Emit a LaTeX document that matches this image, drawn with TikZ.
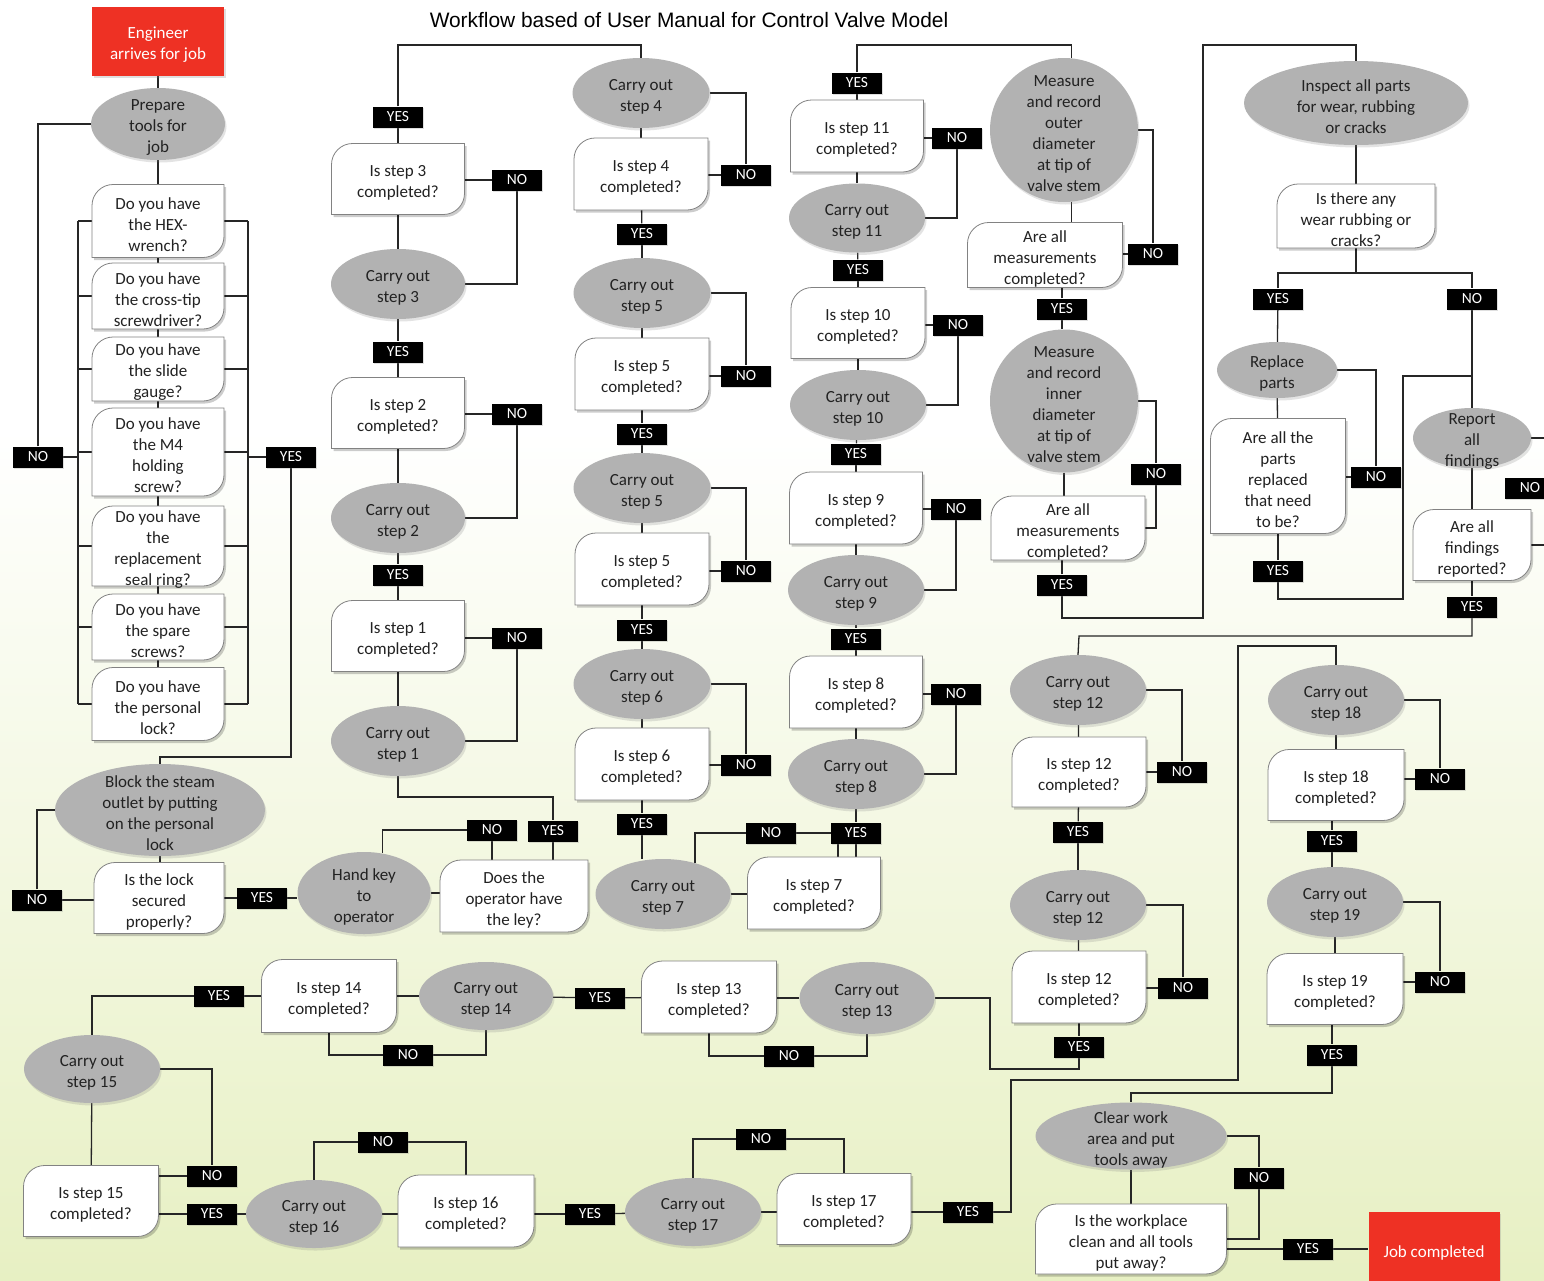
\documentclass[tikz,border=0pt]{standalone}
\usepackage{fontspec}
\setmainfont{Carlito}
\newfontfamily\titlefont{Liberation Sans}
\usetikzlibrary{shapes.geometric,shadows,calc}

\definecolor{ellgray}{RGB}{178,178,178}
\definecolor{boxedge}{RGB}{130,130,130}
\definecolor{wirec}{RGB}{38,38,38}
\definecolor{txt}{RGB}{34,34,34}
\definecolor{startred}{RGB}{238,49,36}
\definecolor{bgbot}{RGB}{231,240,195}

\pgfdeclarelayer{bg}
\pgfdeclarelayer{lines}
\pgfdeclarelayer{shapes}
\pgfsetlayers{bg,lines,shapes,main}

\tikzset{
  ell/.style={ellipse, fill=ellgray, draw=none, inner sep=0pt,
    drop shadow={shadow xshift=1.5pt, shadow yshift=-2.5pt, opacity=0.22}},
  qn/.style={rectangle, inner sep=0pt, draw=none},
  tx/.style={align=center, inner sep=0pt, text=txt, yshift=-3.5pt},
  wtx/.style={align=center, inner sep=0pt, text=white, yshift=-3.5pt},
  qshape/.style={fill=white, draw=boxedge, line width=0.8pt},
  qshadow/.style={fill=black, opacity=0.2},
  lab/.style={fill=black, text=white, minimum width=50pt, minimum height=21pt,
    inner sep=0pt, font=\fontsize{15.5}{18}\selectfont,
    drop shadow={shadow xshift=1pt, shadow yshift=-1.5pt, opacity=0.25}},
  redbox/.style={fill=startred, inner sep=0pt,
    drop shadow={shadow xshift=1.5pt, shadow yshift=-2pt, opacity=0.25}},
  wire/.style={color=wirec, line width=1.3pt},
}

% action ellipse: name, x, y, width, height, text
\newcommand\elx[6]{%
  \node[ell, minimum width=#4pt, minimum height=#5pt] (#1) at (#2,#3) {};
  \node[tx] (#1-t) at (#1) {#6};
}
% question box with two rounded diagonal corners: name, x, y, width, height, text
\newcommand\qbx[6]{%
  \node[qn, minimum width=#4pt, minimum height=#5pt] (#1) at (#2,#3) {};
  \pgfmathsetmacro\qxa{#2-#4/2}\pgfmathsetmacro\qxb{#2+#4/2}%
  \pgfmathsetmacro\qya{#3-#5/2}\pgfmathsetmacro\qyb{#3+#5/2}%
  \begin{pgfonlayer}{shapes}
    \fill[qshadow, shift={(2,2.5)}] (\qxa,\qya+21) .. controls (\qxa,\qya+9.5) and (\qxa+9.5,\qya) .. (\qxa+21,\qya)
      -- (\qxb,\qya) -- (\qxb,\qyb-21) .. controls (\qxb,\qyb-9.5) and (\qxb-9.5,\qyb) .. (\qxb-21,\qyb)
      -- (\qxa,\qyb) -- cycle;
    \filldraw[qshape] (\qxa,\qya+21) .. controls (\qxa,\qya+9.5) and (\qxa+9.5,\qya) .. (\qxa+21,\qya)
      -- (\qxb,\qya) -- (\qxb,\qyb-21) .. controls (\qxb,\qyb-9.5) and (\qxb-9.5,\qyb) .. (\qxb-21,\qyb)
      -- (\qxa,\qyb) -- cycle;
  \end{pgfonlayer}
  \node[tx] (#1-t) at (#1) {#6};
}
% YES / NO tag: name, x, y, text
\newcommand\lbx[4]{\node[lab] (#1) at (#2,#3) {#4};}

\begin{document}
\begin{tikzpicture}[x=1pt, y=-1pt, font=\fontsize{17}{21}\selectfont]
\useasboundingbox (0,0) rectangle (1544,1280);
\begin{pgfonlayer}{bg}
  \fill[white] (0,0) rectangle (1544,1280);
  \shade[top color=white, bottom color=bgbot] (0,430) rectangle (1544,1280);
\end{pgfonlayer}

\node[font=\titlefont\fontsize{20.9}{24}\selectfont, text=black] (title) at (689,20)
  {Workflow based of User Manual for Control Valve Model};

% ---------- tool check column ----------
\node[redbox, minimum width=132pt, minimum height=69pt] (start) at (158,41) {};
\node[wtx] (start-t) at (start) {Engineer\\arrives for job};
\elx{prep}{158}{124}{134}{72}{Prepare\\tools for\\job}
\qbx{q1}{158}{221}{132}{73}{Do you have\\the HEX-\\wrench?}
\qbx{q2}{158}{296}{132}{66}{Do you have\\the cross-tip\\screwdriver?}
\qbx{q3}{158}{369}{132}{64}{Do you have\\the slide\\gauge?}
\qbx{q4}{158}{452}{132}{88}{Do you have\\the M4\\holding\\screw?}
\qbx{q5}{158}{546}{132}{80}{Do you have\\the\\replacement\\seal ring?}
\qbx{q6}{158}{627}{132}{66}{Do you have\\the spare\\screws?}
\qbx{q7}{158}{704}{132}{73}{Do you have\\the personal\\lock?}
\lbx{noA}{38}{457}{NO}
\lbx{yesA}{291}{457}{YES}
\elx{block}{160}{810}{210}{92}{Block the steam\\outlet by putting\\on the personal\\lock}
\qbx{lockq}{159}{898}{130}{71}{Is the lock\\secured\\properly?}
\lbx{noB}{37}{900}{NO}
\lbx{yesB}{262}{898}{YES}
\elx{hand}{364}{893}{133}{82}{Hand key\\to\\operator}
\qbx{keyq}{514}{896}{148}{72}{Does the\\operator have\\the ley?}
\lbx{noC}{492}{830}{NO}
\lbx{yesC}{553}{831}{YES}

% ---------- steps 3 to 1 ----------
\lbx{yes3}{398}{117}{YES}
\qbx{c3q}{398}{179}{133}{71}{Is step 3\\completed?}
\lbx{no3}{517}{180}{NO}
\elx{c3s}{398}{284}{134}{70}{Carry out\\step 3}
\lbx{yes2}{398}{352}{YES}
\qbx{c2q}{398}{413}{133}{71}{Is step 2\\completed?}
\lbx{no2}{517}{414}{NO}
\elx{c2s}{398}{518}{134}{70}{Carry out\\step 2}
\lbx{yes1}{398}{575}{YES}
\qbx{c1q}{398}{636}{133}{71}{Is step 1\\completed?}
\lbx{no1}{517}{638}{NO}
\elx{c1s}{398}{741}{134}{70}{Carry out\\step 1}

% ---------- steps 4 to 7 ----------
\elx{c4s}{641}{93}{137}{70}{Carry out\\step 4}
\qbx{c4q}{641}{174}{134}{72}{Is step 4\\completed?}
\lbx{no4}{746}{175}{NO}
\lbx{yes4}{642}{234}{YES}
\elx{c5s}{642}{293}{137}{70}{Carry out\\step 5}
\qbx{c5q}{642}{374}{134}{72}{Is step 5\\completed?}
\lbx{no5}{746}{376}{NO}
\lbx{yes5}{642}{434}{YES}
\elx{c5bs}{642}{488}{137}{70}{Carry out\\step 5}
\qbx{c5bq}{642}{569}{134}{72}{Is step 5\\completed?}
\lbx{no5b}{746}{571}{NO}
\lbx{yes5b}{642}{630}{YES}
\elx{c6s}{642}{684}{137}{70}{Carry out\\step 6}
\qbx{c6q}{642}{764}{134}{72}{Is step 6\\completed?}
\lbx{no6}{746}{765}{NO}
\lbx{yes6}{642}{824}{YES}
\elx{c7s}{663}{894}{135}{70}{Carry out\\step 7}
\lbx{no7}{771}{833}{NO}
\qbx{c7q}{814}{893}{133}{72}{Is step 7\\completed?}
\lbx{yes7}{856}{833}{YES}

% ---------- steps 11 to 8 ----------
\lbx{yes11}{857}{83}{YES}
\qbx{c11q}{857}{136}{133}{72}{Is step 11\\completed?}
\lbx{no11}{957}{138}{NO}
\elx{c11s}{857}{218}{136}{69}{Carry out\\step 11}
\lbx{yes10}{858}{270}{YES}
\qbx{c10q}{858}{323}{134}{71}{Is step 10\\completed?}
\lbx{no10}{958}{325}{NO}
\elx{c10s}{858}{405}{136}{70}{Carry out\\step 10}
\lbx{yes9}{856}{454}{YES}
\qbx{c9q}{856}{508}{133}{72}{Is step 9\\completed?}
\lbx{no9}{956}{509}{NO}
\elx{c9s}{856}{590}{136}{70}{Carry out\\step 9}
\lbx{yes8}{856}{639}{YES}
\qbx{c8q}{856}{692}{133}{72}{Is step 8\\completed?}
\lbx{no8}{956}{694}{NO}
\elx{c8s}{856}{774}{136}{70}{Carry out\\step 8}

% ---------- measurements ----------
\elx{m1}{1064}{130}{148}{144}{Measure\\and record\\outer\\diameter\\at tip of\\valve stem}
\qbx{mq1}{1045}{255}{155}{65}{Are all\\measurements\\completed?}
\lbx{nom1}{1153}{254}{NO}
\lbx{yesm1}{1062}{309}{YES}
\elx{m2}{1064}{401}{148}{143}{Measure\\and record\\inner\\diameter\\at tip of\\valve stem}
\qbx{mq2}{1068}{528}{154}{64}{Are all\\measurements\\completed?}
\lbx{nom2}{1156}{474}{NO}
\lbx{yesm2}{1062}{585}{YES}

% ---------- inspection ----------
\elx{insp}{1356}{103}{224}{84}{Inspect all parts\\for wear, rubbing\\or cracks}
\qbx{wq}{1356}{216}{158}{64}{Is there any\\wear rubbing or\\cracks?}
\lbx{yesw}{1278}{299}{YES}
\lbx{now}{1472}{299}{NO}
\elx{repl}{1277}{370}{120}{56}{Replace\\parts}
\qbx{rq}{1278}{476}{135}{115}{Are all the\\parts\\replaced\\that need\\to be?}
\lbx{norq}{1376}{477}{NO}
\lbx{yesrq}{1278}{571}{YES}
\elx{rep}{1472}{438}{118}{60}{Report\\all\\findings}
\qbx{fq}{1472}{545}{118}{71}{Are all\\findings\\reported?}
\lbx{nof}{1530}{488}{NO}
\lbx{yesf}{1472}{607}{YES}

% ---------- step 12 ----------
\elx{c12s}{1078}{690}{136}{70}{Carry out\\step 12}
\qbx{c12q}{1079}{772}{134}{70}{Is step 12\\completed?}
\lbx{no12}{1182}{772}{NO}
\lbx{yes12}{1078}{832}{YES}
\elx{c12bs}{1078}{905}{136}{70}{Carry out\\step 12}
\qbx{c12bq}{1079}{987}{134}{72}{Is step 12\\completed?}
\lbx{no12b}{1183}{988}{NO}
\lbx{yes12b}{1079}{1047}{YES}

% ---------- steps 13 to 17 ----------
\elx{c13s}{867}{998}{135}{72}{Carry out\\step 13}
\qbx{c13q}{709}{997}{135}{72}{Is step 13\\completed?}
\lbx{no13}{789}{1056}{NO}
\lbx{yes13}{600}{998}{YES}
\elx{c14s}{486}{996}{134}{68}{Carry out\\step 14}
\qbx{c14q}{329}{996}{135}{73}{Is step 14\\completed?}
\lbx{no14}{408}{1055}{NO}
\lbx{yes14}{219}{996}{YES}
\elx{c15s}{92}{1069}{136}{68}{Carry out\\step 15}
\qbx{c15q}{91}{1201}{135}{71}{Is step 15\\completed?}
\lbx{no15}{212}{1176}{NO}
\lbx{yes15}{212}{1214}{YES}
\elx{c16s}{314}{1214}{136}{68}{Carry out\\step 16}
\lbx{no16}{383}{1142}{NO}
\qbx{c16q}{466}{1211}{136}{72}{Is step 16\\completed?}
\lbx{yes16}{590}{1214}{YES}
\elx{c17s}{693}{1212}{136}{68}{Carry out\\step 17}
\lbx{no17}{761}{1139}{NO}
\qbx{c17q}{844}{1209}{134}{71}{Is step 17\\completed?}
\lbx{yes17}{968}{1212}{YES}

% ---------- steps 18 and 19 ----------
\elx{c18s}{1336}{700}{136}{70}{Carry out\\step 18}
\qbx{c18q}{1336}{785}{136}{71}{Is step 18\\completed?}
\lbx{no18}{1440}{779}{NO}
\lbx{yes18}{1332}{841}{YES}
\elx{c19s}{1335}{902}{136}{70}{Carry out\\step 19}
\qbx{c19q}{1335}{989}{136}{71}{Is step 19\\completed?}
\lbx{no19}{1440}{982}{NO}
\lbx{yes19}{1332}{1055}{YES}

% ---------- clean-up and finish ----------
\elx{clear}{1131}{1136}{191}{67}{Clear work\\area and put\\tools away}
\qbx{cleanq}{1131}{1239}{191}{70}{Is the workplace\\clean and all tools\\put away?}
\lbx{nocl}{1259}{1178}{NO}
\lbx{yescl}{1308}{1249}{YES}
\node[redbox, minimum width=131pt, minimum height=74pt] (done) at (1434,1249) {};
\node[wtx] (done-t) at (done) {Job completed};

% ================= connectors =================
\begin{pgfonlayer}{lines}
\begin{scope}[wire]
  % tool check
  \draw (start) -- (prep);
  \draw (prep) -- (q1); \draw (q1) -- (q2); \draw (q2) -- (q3);
  \draw (q3) -- (q4); \draw (q4) -- (q5); \draw (q5) -- (q6); \draw (q6) -- (q7);
  \coordinate (busL) at (78,0);
  \coordinate (busR) at (248,0);
  \foreach \n in {q1,q2,q3,q4,q5,q6,q7} {
    \draw (\n.west) -- (\n.west -| busL);
    \draw (\n.east) -- (\n.east -| busR);
  }
  \draw (q1.west -| busL) -- (q7.west -| busL);
  \draw (q1.east -| busR) -- (q7.east -| busR);
  \draw (noA) -- (noA -| busL);
  \draw (noA) |- (prep.west);
  \draw (yesA) -- (yesA -| busR);
  \coordinate (j1) at (160,757);
  \draw (yesA) |- (j1) -- (block.north);
  \draw (block.south) -- (block.south |- lockq.north);
  \draw (noB.east) -- (noB.east -| lockq.west);
  \draw (noB) |- (block.west);
  \draw (yesB.west) -- (yesB.west -| lockq.east);
  \draw (yesB.east) -- (yesB.east -| hand.west);
  \draw (hand.east) -- (hand.east -| keyq.west);
  \draw (noC) -- (noC |- keyq.north);
  \draw (noC) -| (hand.65);
  \draw (yesC) -- (yesC |- keyq.north);
  \coordinate (j2) at (398,797);
  \draw (c1s) -- (j2) -| (yesC);

  % steps 3 to 1
  \coordinate (t2) at (398,45);
  \draw (yes3) -- (t2) -| (c4s.north);
  \draw (yes3) -- (c3q); \draw (c3q) -- (c3s); \draw (c3s) -- (yes2);
  \draw (yes2) -- (c2q); \draw (c2q) -- (c2s); \draw (c2s) -- (yes1);
  \draw (yes1) -- (c1q); \draw (c1q) -- (c1s);
  \draw (no3.west) -- (no3.west -| c3q.east); \draw (no3) |- (c3s.east);
  \draw (no2.west) -- (no2.west -| c2q.east); \draw (no2) |- (c2s.east);
  \draw (no1.west) -- (no1.west -| c1q.east); \draw (no1) |- (c1s.east);

  % steps 4 to 7
  \draw (c4s) -- (c4q); \draw (c4q) -- (yes4); \draw (yes4) -- (c5s);
  \draw (c5s) -- (c5q); \draw (c5q) -- (yes5); \draw (yes5) -- (c5bs);
  \draw (c5bs) -- (c5bq); \draw (c5bq) -- (yes5b); \draw (yes5b) -- (c6s);
  \draw (c6s) -- (c6q); \draw (c6q) -- (yes6);
  \draw (c4s.east) -| (no4); \draw (no4.west) -- (no4.west -| c4q.east);
  \draw (c5s.east) -| (no5); \draw (no5.west) -- (no5.west -| c5q.east);
  \draw (c5bs.east) -| (no5b); \draw (no5b.west) -- (no5b.west -| c5bq.east);
  \draw (c6s.east) -| (no6); \draw (no6.west) -- (no6.west -| c6q.east);
  \draw (yes6) -- (yes6 |- c7s.north);
  \draw (c7s.44) |- (no7);
  \draw (no7) -| ($(c7q.north)+(24,0)$);
  \draw (c7s.east) -- (c7s.east -| c7q.west);
  \draw (yes7) -- (yes7 |- c7q.north);
  \draw (c8s) -- (yes7);

  % steps 11 to 8
  \coordinate (t4) at (857,45);
  \draw (yes11) -- (t4) -| (m1.84);
  \draw (yes11) -- (c11q); \draw (c11q) -- (c11s); \draw (c11s) -- (yes10);
  \draw (yes10) -- (c10q); \draw (c10q) -- (c10s); \draw (c10s) -- (yes9);
  \draw (yes9) -- (c9q); \draw (c9q) -- (c9s); \draw (c9s) -- (yes8);
  \draw (yes8) -- (c8q); \draw (c8q) -- (c8s);
  \draw (c11s.east) -| (no11); \draw (no11.west) -- (no11.west -| c11q.east);
  \draw (c10s.east) -| (no10); \draw (no10.west) -- (no10.west -| c10q.east);
  \draw (c9s.east) -| (no9); \draw (no9.west) -- (no9.west -| c9q.east);
  \draw (c8s.east) -| (no8); \draw (no8.west) -- (no8.west -| c8q.east);

  % measurements
  \draw (m1.276) -- (m1.276 |- mq1.north);
  \draw (m1.east) -| (nom1); \draw (nom1.west) -- (nom1.west -| mq1.east);
  \draw (yesm1) -- (yesm1 |- mq1.south);
  \draw (yesm1) -- (yesm1 |- m2.north);
  \draw (m2.south) -- (m2.south |- mq2.north);
  \draw (m2.east) -| (nom2); \draw (nom2) |- (mq2.east);
  \draw (yesm2) -- (yesm2 |- mq2.south);
  \coordinate (r1) at (1203,618);
  \coordinate (r2) at (1203,45);
  \draw (yesm2) |- (r1) -- (r2) -| (insp.north);

  % inspection
  \coordinate (sp) at (1356,273);
  \draw (insp) -- (wq); \draw (wq) -- (sp);
  \draw (yesw) |- (sp) -| (now);
  \draw (yesw) -- (repl); \draw (repl) -- (rq);
  \draw (repl.east) -| (norq); \draw (norq.west) -- (norq.west -| rq.east);
  \draw (rq) -- (yesrq);
  \coordinate (r3) at (1403,599);
  \coordinate (r4) at (1472,376);
  \draw (yesrq) |- (r3) |- (r4);
  \draw (now) -- (rep); \draw (rep) -- (fq); \draw (fq) -- (yesf);
  \coordinate (r5) at (1556,438);
  \coordinate (r6) at (1556,545);
  \draw (rep.east) -- (r5) -- (r6) -- (fq.east);
  \coordinate (r7) at (1079,636);
  \draw (yesf) |- (r7) -- (c12s.north);

  % step 12
  \draw (c12s) -- (c12q); \draw (c12q) -- (yes12); \draw (yes12) -- (c12bs);
  \draw (c12bs) -- (c12bq); \draw (c12bq) -- (yes12b);
  \draw (c12s.east) -| (no12); \draw (no12.west) -- (no12.west -| c12q.east);
  \draw (c12bs.east) -| (no12b); \draw (no12b.west) -- (no12b.west -| c12bq.east);
  \coordinate (r8) at (990,1069);
  \draw (yes12b) |- (r8) |- (c13s.east);

  % steps 13 to 17
  \draw (c13s.west) -- (c13s.west -| c13q.east);
  \draw (c13q.south) |- (no13); \draw (no13) -| (c13s.south);
  \draw (c13q) -- (yes13); \draw (yes13) -- (c14s);
  \draw (c14s) -- (c14q);
  \draw (c14q.south) |- (no14); \draw (no14) -| (c14s.south);
  \draw (c14q) -- (yes14); \draw (yes14) -| (c15s.north);
  \draw (c15s) -- (c15q);
  \draw (c15s.east) -| (no15); \draw (no15.west) -- (no15.west -| c15q.east);
  \draw (yes15.west) -- (yes15.west -| c15q.east); \draw (yes15) -- (c16s);
  \draw (c16s.north) |- (no16); \draw (no16) -| (c16q.north);
  \draw (c16s.east) -- (c16s.east -| c16q.west);
  \draw (c16q.east |- yes16) -- (yes16); \draw (yes16) -- (c17s);
  \draw (c17s.north) |- (no17); \draw (no17) -| (c17q.north);
  \draw (c17s.east) -- (c17s.east -| c17q.west);
  \draw (c17q.east |- yes17) -- (yes17);
  \coordinate (r9) at (1011,1080);
  \coordinate (r10) at (1238,646);
  \draw (yes17) -| (r9) -| (r10) -| (c18s.north);

  % steps 18 and 19
  \draw (c18s) -- (c18q);
  \draw (c18s.east) -| (no18); \draw (no18.west) -- (no18.west -| c18q.east);
  \draw (c18q.south -| yes18) -- (yes18); \draw (yes18) -- (yes18 |- c19s.north);
  \draw (c19s) -- (c19q);
  \draw (c19s.east) -| (no19); \draw (no19.west) -- (no19.west -| c19q.east);
  \draw (c19q.south -| yes19) -- (yes19);
  \coordinate (r11) at (1131,1093);
  \draw (yes19) |- (r11) -- (clear.north);

  % clean-up
  \draw (clear) -- (cleanq);
  \draw (clear.east) -| (nocl); \draw (nocl) |- (cleanq.east);
  \draw (yescl.west) -- (yescl.west -| cleanq.east);
  \draw (yescl) -- (done);
\end{scope}
\end{pgfonlayer}
\end{tikzpicture}
\end{document}
